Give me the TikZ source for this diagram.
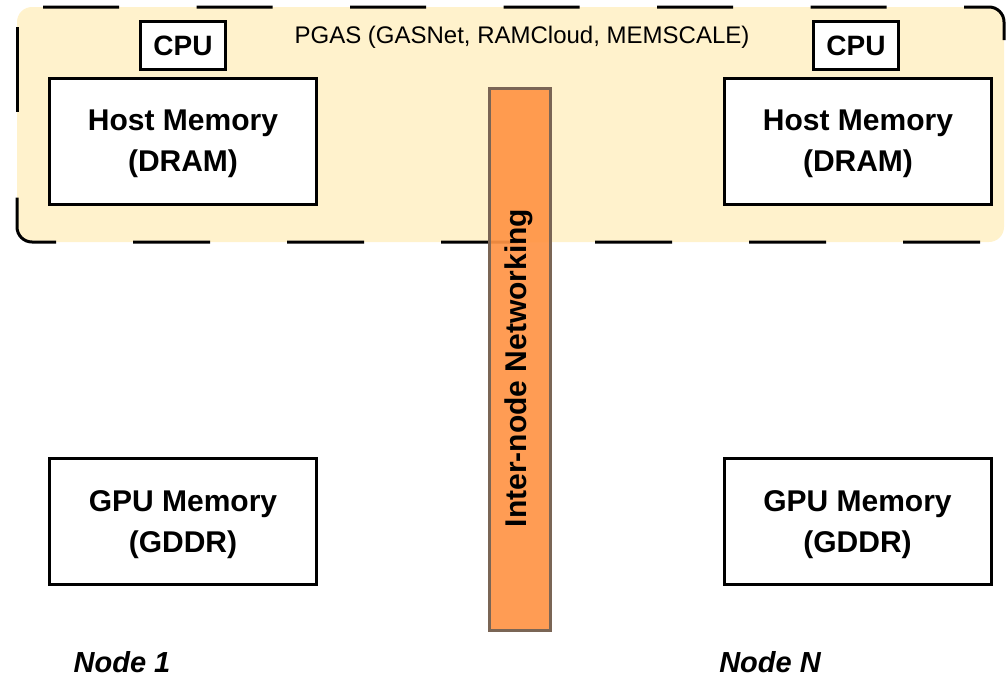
\documentclass[tikz,border=0pt]{standalone}
\usepackage{fontspec}
\setmainfont{Liberation Sans}
\definecolor{pgasfill}{HTML}{FFF2CC}
\definecolor{barfill}{HTML}{FF9445}
\definecolor{barline}{HTML}{7A6555}
\begin{document}
\begin{tikzpicture}[x=1pt,y=-1pt,
  memlabel/.style={font=\bfseries\fontsize{30}{41}\selectfont, align=center, inner sep=0pt},
  membox/.style={draw=black, line width=3pt, fill=white, minimum width=267pt, minimum height=126pt, inner sep=0pt},
  cpubox/.style={draw=black, line width=3pt, fill=white, minimum width=85pt, minimum height=48pt, inner sep=0pt, font=\bfseries\fontsize{28}{34}\selectfont},
  border/.style={line width=3pt, black},
  nodelabel/.style={font=\bfseries\itshape\fontsize{29}{34}\selectfont, inner sep=0pt, anchor=base}
]
\useasboundingbox (0,0) rectangle (1006,680);
% PGAS region
\fill[pgasfill, rounded corners=15pt] (17,7) rectangle (1004,242);
\draw[border, dash pattern=on 76pt off 77.5pt] (43,7) -- (989,7) arc[start angle=-90, end angle=0, radius=15] -- (1004,40);
\draw[border, dash pattern=on 77pt off 77pt, dash phase=145pt] (989,242) -- (32,242) arc[start angle=90, end angle=180, radius=15] -- (17,192);
\draw[border] (17,27) -- (17,112);
\node[font=\fontsize{24}{28}\selectfont, inner sep=0pt] (pgas) at (522,37) {PGAS (GASNet, RAMCloud, MEMSCALE)};
% Node 1
\node[cpubox] (cpuL) at (183,45.5) {CPU};
\node[membox, label={[memlabel, yshift=-3pt]center:{Host Memory\\(DRAM)}}] (hostL) at (183,141) {};
\node[membox, label={[memlabel, yshift=-3pt]center:{GPU Memory\\(GDDR)}}] (gpuL) at (183,521.5) {};
\node[nodelabel] (n1) at (122,672) {Node 1};
% Node N
\node[cpubox] (cpuR) at (856,45.5) {CPU};
\node[membox, label={[memlabel, yshift=-3pt]center:{Host Memory\\(DRAM)}}] (hostR) at (858,141) {};
\node[membox, label={[memlabel, yshift=-3pt]center:{GPU Memory\\(GDDR)}}] (gpuR) at (857.5,521.5) {};
\node[nodelabel] (nN) at (770,672) {Node N};
% Inter-node networking bar
\node[draw=barline, line width=3pt, fill=barfill, fill opacity=0.92, minimum width=61pt, minimum height=542pt, inner sep=0pt] (net) at (520,359.5) {};
\node[rotate=90, font=\bfseries\fontsize{30}{34}\selectfont, inner sep=0pt] (netlabel) at (519,368) {Inter-node Networking};
\end{tikzpicture}
\end{document}
